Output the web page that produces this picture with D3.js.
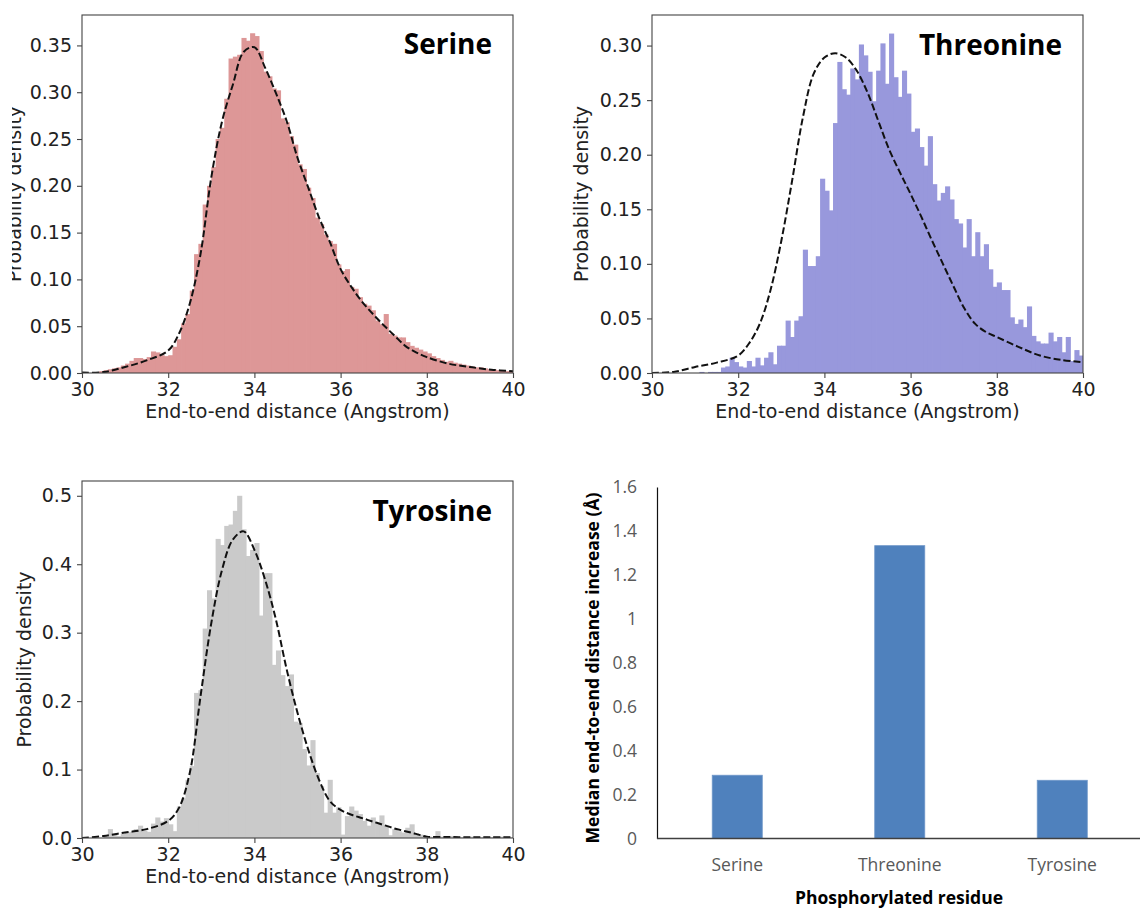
<!DOCTYPE html>
<html>
<head>
<meta charset="utf-8">
<script src="https://cdn.jsdelivr.net/npm/d3@7"></script>
<style>
  body { margin: 0; background: #fff; }
  svg { display: block; }
</style>
</head>
<body>
<svg id="chart" width="1140" height="909"></svg>
<script>
// ---- data ----
const xTicks = [30, 32, 34, 36, 38, 40];
const serineTicks = [0, 0.05, 0.10, 0.15, 0.20, 0.25, 0.30, 0.35];
const threonineTicks = [0, 0.05, 0.10, 0.15, 0.20, 0.25, 0.30];
const tyrosineTicks = [0, 0.1, 0.2, 0.3, 0.4, 0.5];

// histogram bins: 0.1 Angstrom wide, starting at 30
const binStart = 30;
const binWidth = 0.1;

const serineDensity = [
  0, 0, 0, 0.001, 0.002, 0.003, 0.004, 0.005, 0.006, 0.008,
  0.010, 0.013, 0.016, 0.016, 0.015, 0.017, 0.023, 0.022, 0.019, 0.018,
  0.019, 0.028, 0.036, 0.053, 0.063, 0.088, 0.127, 0.138, 0.180, 0.200,
  0.220, 0.250, 0.262, 0.293, 0.336, 0.338, 0.340, 0.358, 0.355, 0.363,
  0.360, 0.344, 0.322, 0.317, 0.304, 0.302, 0.272, 0.268, 0.253, 0.244,
  0.223, 0.218, 0.198, 0.187, 0.166, 0.159, 0.148, 0.141, 0.138, 0.116,
  0.109, 0.111, 0.092, 0.090, 0.081, 0.074, 0.072, 0.067, 0.056, 0.052,
  0.063, 0.042, 0.040, 0.038, 0.038, 0.033, 0.029, 0.027, 0.025, 0.023,
  0.021, 0.018, 0.016, 0.014, 0.012, 0.013, 0.011, 0.010, 0.009, 0.008,
  0.007, 0.006, 0.006, 0.005, 0.004, 0.004, 0.003, 0.003, 0.002, 0.002
];

const threonineDensity = [
  0, 0, 0, 0, 0, 0, 0, 0, 0, 0,
  0, 0.001, 0, 0.001, 0.001, 0.001, 0.005, 0.006, 0.014, 0.010,
  0.006, 0.005, 0.011, 0.006, 0.014, 0.007, 0.014, 0.019, 0.008, 0.025,
  0.025, 0.048, 0.033, 0.048, 0.052, 0.113, 0.098, 0.098, 0.107, 0.178,
  0.167, 0.149, 0.229, 0.285, 0.260, 0.255, 0.279, 0.269, 0.301, 0.291,
  0.276, 0.249, 0.277, 0.302, 0.265, 0.311, 0.271, 0.253, 0.277, 0.256,
  0.221, 0.224, 0.207, 0.190, 0.217, 0.173, 0.158, 0.165, 0.171, 0.159,
  0.141, 0.137, 0.115, 0.141, 0.107, 0.129, 0.107, 0.118, 0.095, 0.079,
  0.083, 0.076, 0.076, 0.051, 0.045, 0.049, 0.042, 0.061, 0.034, 0.029,
  0.027, 0.027, 0.037, 0.029, 0.033, 0.019, 0.033, 0.011, 0.021, 0.016
];

const tyrosineDensity = [
  0, 0, 0, 0, 0, 0.002, 0.013, 0.005, 0.003, 0.006,
  0.008, 0.009, 0.013, 0.018, 0.011, 0.009, 0.021, 0.030, 0.024, 0.029,
  0.020, 0.010, 0.046, 0.058, 0.085, 0.105, 0.212, 0.216, 0.306, 0.362,
  0.350, 0.437, 0.428, 0.456, 0.458, 0.478, 0.500, 0.451, 0.412, 0.421,
  0.431, 0.325, 0.387, 0.387, 0.253, 0.274, 0.238, 0.222, 0.239, 0.170,
  0.168, 0.130, 0.106, 0.143, 0.095, 0.076, 0.037, 0.085, 0.037, 0.045,
  0.005, 0.032, 0.046, 0.040, 0.035, 0.025, 0.018, 0.030, 0.022, 0.033,
  0.018, 0.004, 0.013, 0.010, 0.008, 0.015, 0.020, 0.007, 0.005, 0.003,
  0.002, 0.001, 0.010, 0.002, 0.002, 0.003, 0.002, 0.001, 0.001, 0.001,
  0.002, 0.001, 0.001, 0.002, 0.001, 0.001, 0.001, 0.002, 0.001, 0.001
];

// dashed density curves, sampled on a shared grid
const kdeGrid = [30, 30.5, 31, 31.5, 32, 32.25, 32.5, 32.75, 33, 33.25, 33.5, 33.75,
  34, 34.25, 34.5, 34.75, 35, 35.25, 35.5, 35.75, 36, 36.25, 36.5, 36.75,
  37, 37.25, 37.5, 37.75, 38, 38.5, 39, 39.5, 40];
const serineKde = [0.0005, 0.001, 0.0064, 0.0135, 0.024, 0.042, 0.074, 0.127, 0.209, 0.269, 0.308, 0.343,
  0.348, 0.326, 0.299, 0.269, 0.230, 0.198, 0.166, 0.140, 0.111, 0.092, 0.076, 0.063,
  0.051, 0.040, 0.029, 0.022, 0.017, 0.010, 0.0064, 0.0035, 0.002];
const threonineKde = [0, 0.001, 0.0055, 0.0095, 0.016, 0.027, 0.045, 0.076, 0.121, 0.176, 0.234, 0.274,
  0.289, 0.293, 0.289, 0.277, 0.257, 0.231, 0.205, 0.184, 0.164, 0.143, 0.121, 0.100,
  0.079, 0.059, 0.045, 0.0375, 0.033, 0.024, 0.016, 0.012, 0.010];
const tyrosineKde = [0, 0.003, 0.008, 0.013, 0.025, 0.044, 0.095, 0.207, 0.314, 0.392, 0.436, 0.448,
  0.421, 0.377, 0.319, 0.246, 0.183, 0.129, 0.085, 0.054, 0.041, 0.034, 0.029, 0.024,
  0.019, 0.014, 0.010, 0.006, 0.002, 0.0015, 0.001, 0.001, 0.001];

// bar chart
const residues = ["Serine", "Threonine", "Tyrosine"];
const medianIncrease = [0.288, 1.333, 0.265];
const barTicks = [0, 0.2, 0.4, 0.6, 0.8, 1.0, 1.2, 1.4, 1.6];

// ---- drawing ----
const svg = d3.select("#chart");
const mplFont = "'DejaVu Sans', sans-serif";
const xlFont = "'Open Sans', 'Noto Sans', sans-serif";

function histPanel(p) {
  const x = d3.scaleLinear().domain([30, 40]).range([p.left, p.right]);
  const y = d3.scaleLinear().domain([0, p.yMax]).range([p.bottom, p.top]);
  const g = svg.append("g");

  const clipId = "clip-" + p.name;
  svg.append("clipPath").attr("id", clipId)
    .append("rect")
      .attr("x", p.left).attr("y", p.top)
      .attr("width", p.right - p.left).attr("height", p.bottom - p.top);

  const bins = p.density.map((v, i) => ({ x0: binStart + i * binWidth, v: v }));
  const bw = x(binStart + binWidth) - x(binStart);

  g.append("g").attr("clip-path", `url(#${clipId})`)
    .selectAll("rect")
    .data(bins)
    .join("rect")
      .attr("x", d => x(d.x0))
      .attr("y", d => y(d.v))
      .attr("width", bw + 0.8)
      .attr("height", d => p.bottom - y(d.v))
      .attr("fill", p.color);

  const line = d3.line()
    .x((d, i) => x(kdeGrid[i]))
    .y(d => y(d))
    .curve(d3.curveCatmullRom);

  g.append("path")
    .datum(p.kde)
    .attr("clip-path", `url(#${clipId})`)
    .attr("d", line)
    .attr("fill", "none")
    .attr("stroke", "#111")
    .attr("stroke-width", 2)
    .attr("stroke-dasharray", "7,3");

  // frame
  g.append("rect")
    .attr("x", p.left).attr("y", p.top)
    .attr("width", p.right - p.left).attr("height", p.bottom - p.top)
    .attr("fill", "none").attr("stroke", "#444").attr("stroke-width", 1.1);

  const xAxis = g.append("g")
    .attr("transform", `translate(0,${p.bottom})`)
    .call(d3.axisBottom(x).tickValues(xTicks).tickSize(5).tickPadding(5).tickSizeOuter(0));
  const yAxis = g.append("g")
    .attr("transform", `translate(${p.left},0)`)
    .call(d3.axisLeft(y).tickValues(p.ticks).tickSize(5).tickPadding(5).tickSizeOuter(0)
      .tickFormat(d3.format(p.fmt)));

  [xAxis, yAxis].forEach(a => {
    a.attr("font-family", mplFont).attr("font-size", 19);
    a.select(".domain").remove();
    a.selectAll(".tick line").attr("stroke", "#444").attr("stroke-width", 1.1);
    a.selectAll(".tick text").attr("fill", "#222");
  });

  g.append("text")
    .attr("x", (p.left + p.right) / 2)
    .attr("y", p.bottom + 45)
    .attr("text-anchor", "middle")
    .attr("font-family", mplFont).attr("font-size", 19).attr("fill", "#222")
    .text("End-to-end distance (Angstrom)");

  // y label; the serine panel was cropped through its label in the original figure
  const labHolder = g.append("g");
  if (p.labelClip != null) {
    svg.append("clipPath").attr("id", clipId + "-lab")
      .append("rect").attr("x", p.labelClip).attr("y", 0).attr("width", 200).attr("height", 909);
    labHolder.attr("clip-path", `url(#${clipId}-lab)`);
  }
  labHolder.append("text")
    .attr("transform", `translate(${p.labelX},${(p.top + p.bottom) / 2}) rotate(-90)`)
    .attr("text-anchor", "middle")
    .attr("font-family", mplFont).attr("font-size", 19).attr("fill", "#222")
    .text("Probability density");

  g.append("text")
    .attr("x", p.titleX).attr("y", p.titleY)
    .attr("text-anchor", "end")
    .attr("font-family", xlFont).attr("font-weight", "bold").attr("font-size", 28)
    .attr("fill", "#000")
    .text(p.title);
}

histPanel({ name: "ser", title: "Serine", density: serineDensity, kde: serineKde,
  color: "#dd9797", ticks: serineTicks, fmt: ".2f", yMax: 0.3825,
  left: 82, right: 513, top: 15, bottom: 373, labelX: 21, labelClip: 12,
  titleX: 492, titleY: 54 });

histPanel({ name: "thr", title: "Threonine", density: threonineDensity, kde: threonineKde,
  color: "#9898dc", ticks: threonineTicks, fmt: ".2f", yMax: 0.328,
  left: 652, right: 1083, top: 15, bottom: 373, labelX: 588,
  titleX: 1062, titleY: 55 });

histPanel({ name: "tyr", title: "Tyrosine", density: tyrosineDensity, kde: tyrosineKde,
  color: "#cacaca", ticks: tyrosineTicks, fmt: ".1f", yMax: 0.5216,
  left: 82, right: 513, top: 481, bottom: 838, labelX: 31,
  titleX: 492, titleY: 521 });

// ---- bar chart ----
const bx = d3.scaleBand()
  .domain(residues)
  .range([656, 1143.5])
  .paddingInner(0.692)
  .paddingOuter(0.346);
const by = d3.scaleLinear().domain([0, 1.6]).range([838.5, 487]);

const bar = svg.append("g");

bar.selectAll("rect")
  .data(residues)
  .join("rect")
    .attr("x", d => bx(d))
    .attr("y", (d, i) => by(medianIncrease[i]))
    .attr("width", bx.bandwidth())
    .attr("height", (d, i) => by(0) - by(medianIncrease[i]))
    .attr("fill", "#4f81bd")
    .attr("stroke", "#6f97c9")
    .attr("stroke-width", 0.8);

const byAxis = bar.append("g")
  .attr("transform", "translate(657,0)")
  .call(d3.axisLeft(by).tickValues(barTicks).tickSize(0).tickPadding(20)
    .tickFormat(d => String(+d.toFixed(1))));
byAxis.select(".domain").attr("stroke", "#111").attr("stroke-width", 1.2);

const bxAxis = bar.append("g")
  .attr("transform", "translate(0,838.5)")
  .call(d3.axisBottom(bx).tickSize(0).tickPadding(20));
bxAxis.select(".domain").attr("d", "M657,0H1140").attr("stroke", "#404040").attr("stroke-width", 1.3);

[byAxis, bxAxis].forEach(a => {
  a.attr("font-family", xlFont).attr("font-size", 17.5);
  a.selectAll(".tick text").attr("fill", "#595959");
});

bar.append("text")
  .attr("transform", "translate(599,668) rotate(-90)")
  .attr("text-anchor", "middle")
  .attr("font-family", xlFont).attr("font-weight", "bold").attr("font-size", 17.5)
  .attr("fill", "#000")
  .text("Median end-to-end distance increase (Å)");

bar.append("text")
  .attr("x", 899).attr("y", 904)
  .attr("text-anchor", "middle")
  .attr("font-family", xlFont).attr("font-weight", "bold").attr("font-size", 17.5)
  .attr("fill", "#000")
  .text("Phosphorylated residue");
</script>
</body>
</html>
